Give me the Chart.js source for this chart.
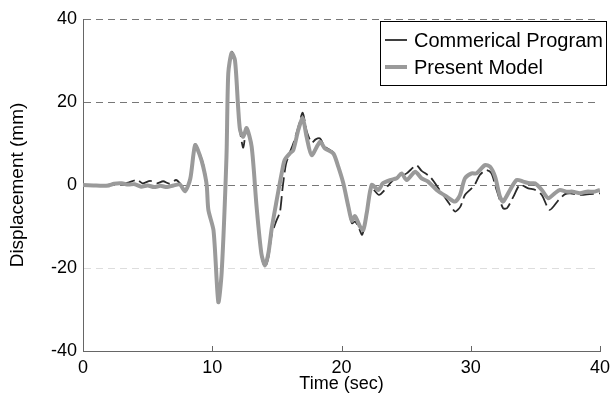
<!doctype html>
<html>
    <head>
        <title>Displacement</title>
        <script src="https://cdn.jsdelivr.net/npm/chart.js@4.4.0/dist/chart.umd.min.js"></script>
        <style>
            body { margin: 0; background: #fff; }
            #chart { display: block; }
        </style>
    </head>
    <body>
        <canvas id="chart" width="613" height="413"></canvas>

        <script>
            // Present Model (thick grey)
            var modelTime = [0, 0.8, 1.5, 2.0, 2.4, 3.0, 3.5, 4.0, 4.5, 5.0, 5.5, 6.0, 6.5, 7.0, 7.5, 7.9,
                             8.3, 8.67, 9.0, 9.3, 9.57, 9.7, 10.1, 10.47, 10.73, 11.1, 11.24, 11.5, 11.76,
                             12.0, 12.15, 12.4, 12.66, 13.05, 13.43, 13.8, 14.08, 14.34, 14.6, 14.99, 15.37,
                             15.6, 16.0, 16.27, 16.66, 17.0, 17.3, 17.69, 18.34, 18.72, 19.37, 19.75, 20.14,
                             20.53, 20.8, 21.04, 21.43, 21.69, 21.95, 22.34, 22.85, 23.2, 23.75, 24.27, 24.65,
                             25.04, 25.7, 26.2, 26.7, 27.36, 28.13, 28.78, 29.17, 29.55, 30.07, 30.45, 31.1,
                             31.5, 31.88, 32.26, 32.5, 33.04, 33.55, 34.07, 34.58, 34.97, 35.5, 36.0, 36.5,
                             36.9, 37.4, 37.9, 38.45, 38.96, 39.6, 40];
            var modelDisp = [0, -0.1, -0.2, -0.1, 0.3, 0.4, 0.1, 0.2, -0.4, -0.1, -0.5, -0.2, -0.5, -0.1, 0.1, -1.5,
                             1.5, 9.6, 7.5, 4.4, 0, -6, -11, -28.2, -21, 6.8, 26.9, 31.8, 30,
                             18.9, 13.3, 11.6, 13.7, 9.2, -5.2, -16.5, -19.4, -16.5, -10.5, -3.6, 2.8,
                             6, 7.6, 8.4, 13.3, 16.1, 11.6, 7.2, 10.4, 8.8, 7.6, 4.4, 0.4,
                             -5.2, -8.6, -7.5, -10, -10.8, -6.8, 0, -1.2, 0.4, 1.2, 1.6, 2.8,
                             1.2, 3.2, 1.6, 0.8, -1.2, -2.8, -4, -2.4, 1.6, 2.8, 2.8, 4.8,
                             4.4, 2, -2.8, -4, -1.2, 1.2, 0.8, 0.4, 0.4, -1.2, -3.2, -2,
                             -1.2, -1.6, -1.6, -2, -1.6, -1.6, -1.2];

            // Commerical Program (thin dark, dashed)
            var progTime = [0, 1.5, 2.4, 3.0, 3.5, 4.2, 4.6, 5.2, 5.7, 6.2, 6.7, 7.2, 7.5, 7.9, 8.3, 8.67,
                            9.0, 9.3, 9.57, 9.7, 10.1, 10.47, 10.73, 11.1, 11.24, 11.5, 11.76, 12.0, 12.15,
                            12.4, 12.66, 13.05, 13.43, 13.8, 14.08, 14.34, 14.6, 14.99, 15.24, 15.45, 15.7,
                            16.0, 16.27, 16.66, 17.0, 17.3, 17.69, 18.0, 18.34, 18.72, 19.37, 19.75, 20.14,
                            20.53, 20.8, 21.04, 21.3, 21.6, 21.95, 22.34, 22.9, 23.4, 23.75, 24.27, 24.65,
                            25.04, 25.4, 25.8, 26.2, 26.85, 27.6, 28.4, 28.8, 29.2, 29.55, 30.0, 30.3, 30.7,
                            31.2, 31.6, 32.0, 32.5, 32.8, 33.3, 33.8, 34.45, 35.0, 35.5, 36.1, 36.8, 37.3,
                            37.7, 38.5, 39.2, 40];
            var progDisp = [0, -0.1, 0.3, 0.5, 0.6, 1.2, 0.4, 1.0, 0.4, 0.9, 0.3, 1.2, 0.4, -1.3, 1.8, 9.8,
                            7.8, 5, 0.5, -5.8, -11, -28.6, -21.5, 6.5, 26.5, 32.1, 30, 18.5, 13,
                            9.0, 13.9, 9.5, -5, -17, -19.8, -17.5, -12, -8.4, -6.5, -0.5, 5,
                            7.8, 10, 14, 17.4, 13, 10.2, 11, 11.2, 9.2, 7.8, 4.4, 0.2,
                            -5.5, -9.2, -8.8, -10, -12, -7, -0.8, -2.4, -1, 0.4, 1.8, 2.2,
                            2.8, 3.8, 4.8, 3.4, 2, -1.2, -4.8, -6.4, -5.2, -2.4, -1, 0, 2.4,
                            3.6, 2.8, -1.2, -5.6, -5.6, -2.8, 0, -0.8, -1.2, -2.4, -6, -3.6, -2.2,
                            -2, -2.4, -2.2, -2];

            var seriesNames = ['Commerical Program', 'Present Model'];
            var xTicks = [0, 10, 20, 30, 40];
            var yTicks = [-40, -20, 0, 20, 40];

            function pairs(xs, ys) {
                var out = [];
                for (var i = 0; i < xs.length; i++) {
                    out.push({x: xs[i], y: ys[i]});
                }
                return out;
            }

            Chart.defaults.font.family = '"Liberation Sans", Arial, sans-serif';
            Chart.defaults.color = '#000';

            // little inward tick marks on the time axis
            var innerTicks = {
                id: 'innerTicks',
                afterDatasetsDraw: function(chart) {
                    var ctx = chart.ctx;
                    var xs = chart.scales.x;
                    var bottom = chart.chartArea.bottom;
                    ctx.save();
                    ctx.strokeStyle = '#666';
                    ctx.lineWidth = 1;
                    ctx.beginPath();
                    for (var i = 1; i < xTicks.length; i++) {
                        var px = Math.round(xs.getPixelForValue(xTicks[i])) + 0.5;
                        ctx.moveTo(px, bottom);
                        ctx.lineTo(px, bottom - 5);
                    }
                    ctx.stroke();
                    ctx.restore();
                }
            };

            // boxed legend in the upper right corner
            var boxLegend = {
                id: 'boxLegend',
                afterDraw: function(chart) {
                    var ctx = chart.ctx;
                    var ds = chart.data.datasets;
                    ctx.save();
                    ctx.fillStyle = '#fff';
                    ctx.fillRect(380, 21, 226, 64);
                    ctx.strokeStyle = '#000';
                    ctx.lineWidth = 1;
                    ctx.strokeRect(380.5, 21.5, 226, 64);
                    ctx.font = '20px "Liberation Sans", Arial, sans-serif';
                    ctx.textBaseline = 'middle';
                    var rows = [40, 67];
                    for (var i = 0; i < ds.length; i++) {
                        ctx.strokeStyle = ds[i].borderColor;
                        ctx.lineWidth = ds[i].borderWidth;
                        ctx.beginPath();
                        ctx.moveTo(385, rows[i]);
                        ctx.lineTo(407, rows[i]);
                        ctx.stroke();
                        ctx.fillStyle = '#000';
                        ctx.fillText(ds[i].label, 414, rows[i] + 1);
                    }
                    ctx.restore();
                }
            };

            var ctx = document.getElementById('chart').getContext('2d');
            var chart = new Chart(ctx, {
                type: 'line',
                data: {
                    datasets: [{
                        label: seriesNames[0],
                        data: pairs(progTime, progDisp),
                        borderColor: '#2a2a2a',
                        borderWidth: 1.8,
                        borderDash: [14, 5],
                        pointRadius: 0,
                        tension: 0.25,
                        fill: false,
                        order: 2
                    }, {
                        label: seriesNames[1],
                        data: pairs(modelTime, modelDisp),
                        borderColor: '#9a9a9a',
                        borderWidth: 4,
                        pointRadius: 0,
                        tension: 0.25,
                        fill: false,
                        order: 1
                    }]
                },
                options: {
                    responsive: false,
                    animation: false,
                    layout: {
                        padding: {left: 0, right: 13, top: 19, bottom: 0}
                    },
                    plugins: {
                        legend: {display: false},
                        tooltip: {enabled: false}
                    },
                    scales: {
                        x: {
                            type: 'linear',
                            min: 0,
                            max: 40,
                            afterBuildTicks: function(scale) {
                                scale.ticks = xTicks.map(function(v) { return {value: v}; });
                            },
                            afterFit: function(scale) {
                                scale.height = 62;
                                scale.paddingLeft = 0;
                                scale.paddingRight = 0;
                            },
                            grid: {drawOnChartArea: false, drawTicks: false},
                            border: {display: true, color: '#666', width: 1},
                            ticks: {
                                font: {size: 18},
                                padding: 6,
                                maxRotation: 0
                            },
                            title: {
                                display: true,
                                text: 'Time (sec)',
                                font: {size: 18},
                                padding: {top: 0, bottom: 18}
                            }
                        },
                        y: {
                            min: -40,
                            max: 40,
                            afterBuildTicks: function(scale) {
                                scale.ticks = yTicks.map(function(v) { return {value: v}; });
                            },
                            afterFit: function(scale) {
                                scale.width = 83;
                                scale.paddingTop = 0;
                                scale.paddingBottom = 0;
                            },
                            grid: {
                                drawTicks: false,
                                lineWidth: 1,
                                color: function(c) {
                                    if (!c.tick) return 'rgba(0,0,0,0)';
                                    if (c.tick.value === -40) return 'rgba(0,0,0,0)';
                                    if (c.tick.value === -20) return '#dddddd';
                                    return '#777777';
                                }
                            },
                            border: {display: true, color: '#666', width: 1, dash: [7, 5]},
                            ticks: {
                                font: {size: 18},
                                padding: 6
                            },
                            title: {
                                display: true,
                                text: 'Displacement (mm)',
                                font: {size: 19},
                                padding: {top: 6, bottom: 0}
                            }
                        }
                    }
                },
                plugins: [innerTicks, boxLegend]
            });
        </script>
    </body>
</html>
